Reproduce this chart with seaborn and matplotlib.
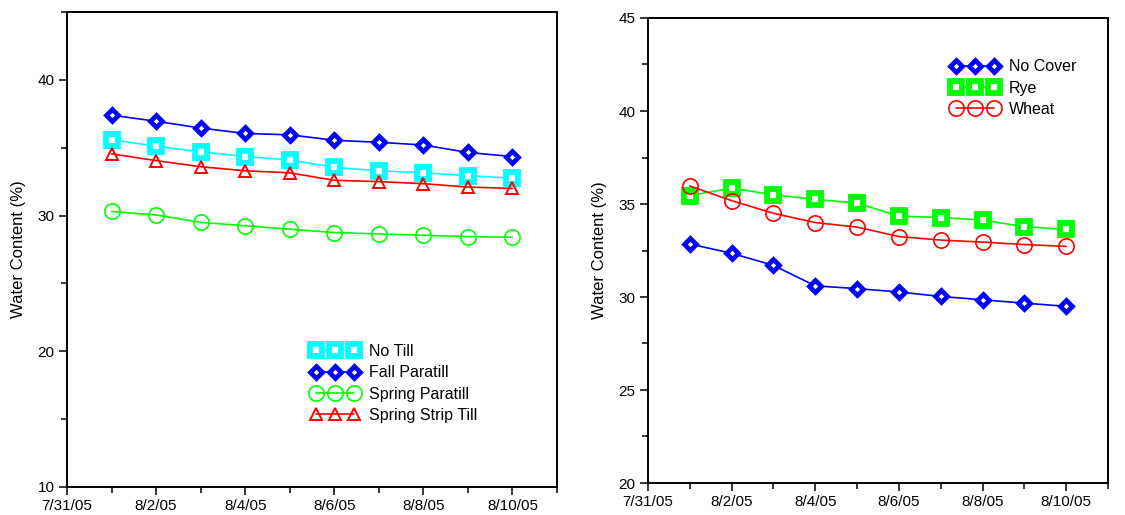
import numpy as np
import pandas as pd
import matplotlib
matplotlib.use("Agg")
import matplotlib.pyplot as plt
import matplotlib.dates as mdates
from matplotlib.ticker import FixedLocator, MultipleLocator, FixedFormatter
import seaborn as sns

# ---- data ----
dates = pd.date_range("2005-08-01", periods=10, freq="D")
tick_dates = pd.date_range("2005-07-31", periods=6, freq="2D")
tick_labels = ["7/31/05", "8/2/05", "8/4/05", "8/6/05", "8/8/05", "8/10/05"]

no_till = [35.6, 35.1, 34.7, 34.35, 34.1, 33.55, 33.3, 33.15, 32.95, 32.75]
fall_paratill = [37.4, 36.95, 36.45, 36.05, 35.95, 35.55, 35.4, 35.2, 34.65, 34.35]
spring_paratill = [30.3, 30.05, 29.5, 29.25, 29.0, 28.75, 28.65, 28.55, 28.45, 28.4]
spring_strip_till = [34.55, 34.05, 33.6, 33.3, 33.15, 32.6, 32.5, 32.35, 32.1, 32.0]

no_cover = [32.85, 32.35, 31.7, 30.6, 30.45, 30.27, 30.03, 29.85, 29.67, 29.5]
rye = [35.45, 35.85, 35.5, 35.25, 35.05, 34.35, 34.27, 34.14, 33.78, 33.63]
wheat = [35.97, 35.18, 34.5, 34.0, 33.76, 33.25, 33.06, 32.95, 32.82, 32.72]

left_series = [
    ("No Till", no_till, "#00FFFF", "s", 8.5, 4.2, "white"),
    ("Fall Paratill", fall_paratill, "#0000FF", "D", 6.5, 3.4, "white"),
    ("Spring Paratill", spring_paratill, "#00FF00", "o", 11, 1.2, "none"),
    ("Spring Strip Till", spring_strip_till, "#FF0000", "^", 8.5, 1.4, "none"),
]
right_series = [
    ("No Cover", no_cover, "#0000FF", "D", 6.5, 3.4, "white"),
    ("Rye", rye, "#00FF00", "s", 8.5, 4.2, "white"),
    ("Wheat", wheat, "#FF0000", "o", 11, 1.2, "none"),
]

sns.set_style("ticks")
plt.rcParams["font.family"] = ["Liberation Sans", "DejaVu Sans"]
plt.rcParams["text.color"] = "black"
plt.rcParams["axes.labelcolor"] = "black"

fig = plt.figure(figsize=(11.25, 5.15), dpi=100)
ax1 = fig.add_axes([67 / 1125, 28 / 515, 490 / 1125, 475 / 515])
ax2 = fig.add_axes([648 / 1125, 32 / 515, 460 / 1125, 465 / 515])


def draw(ax, series):
    for name, vals, color, marker, ms, mew, mfc in series:
        df = pd.DataFrame({"date": dates, "value": vals})
        sns.lineplot(data=df, x="date", y="value", ax=ax, color=color,
                     marker=marker, markersize=ms, markeredgewidth=mew,
                     markerfacecolor=mfc, markeredgecolor=color,
                     linewidth=1.2, label=name, legend=False)


def style(ax, ylim, ymajor, yminor):
    ax.set_xlim(pd.Timestamp("2005-07-31"), pd.Timestamp("2005-08-11"))
    ax.set_ylim(*ylim)
    ax.xaxis.set_major_locator(FixedLocator(mdates.date2num(tick_dates)))
    ax.xaxis.set_major_formatter(FixedFormatter(tick_labels))
    ax.xaxis.set_minor_locator(MultipleLocator(1))
    ax.yaxis.set_major_locator(MultipleLocator(ymajor))
    ax.yaxis.set_minor_locator(MultipleLocator(yminor))
    ax.set_xlabel("")
    ax.set_ylabel("Water Content (%)", fontsize=12, labelpad=8, color="black")
    ax.tick_params(which="major", direction="out", length=6, width=1.1,
                   labelsize=11, color="black", labelcolor="black", pad=3)
    ax.tick_params(which="minor", direction="out", length=4, width=1.1,
                   color="black")
    ax.tick_params(axis="x", which="both", top=False)
    ax.tick_params(axis="y", which="both", right=False)
    for sp in ax.spines.values():
        sp.set_visible(True)
        sp.set_linewidth(1.4)
        sp.set_color("black")
    ax.set_facecolor("white")


draw(ax1, left_series)
draw(ax2, right_series)
style(ax1, (10, 45), 10, 5)
style(ax2, (20, 45), 5, 2.5)
ax1.yaxis.set_major_locator(FixedLocator([10, 20, 30, 40]))

leg_kw = dict(frameon=False, numpoints=3, handlelength=3.0, handletextpad=0.6,
              labelspacing=0.4, fontsize=11.5, borderaxespad=0,
              labelcolor="black")
ax1.legend(loc="upper left", bbox_to_anchor=(0.485, 0.315), **leg_kw)
ax2.legend(loc="upper left", bbox_to_anchor=(0.645, 0.925), **leg_kw)

fig.savefig("out.png", dpi=100, facecolor="white")
